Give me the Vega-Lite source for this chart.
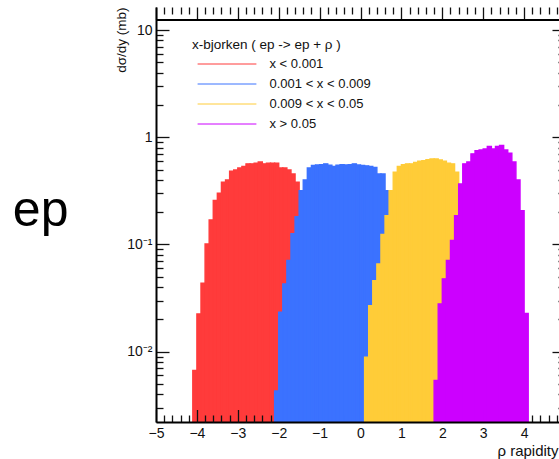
{
  "$schema": "https://vega.github.io/schema/vega-lite/v6.json",
  "width": 403,
  "height": 415,
  "autosize": {"type": "none"},
  "padding": {"left": 156, "top": 7, "right": 0, "bottom": 37},
  "background": "white",
  "config": {
    "view": {"stroke": null},
    "font": "Liberation Sans",
    "axis": {"grid": false, "labelFont": "Liberation Sans", "titleFont": "Liberation Sans", "tickColor": "#111", "tickWidth": 1.3, "domainColor": "#000", "labelColor": "#111", "titleColor": "#111", "titleFontWeight": "normal"},
    "legend": {"labelFont": "Liberation Sans", "titleFont": "Liberation Sans"}
  },
  "datasets": {
    "hist": [
      {"s": "x < 0.001", "x0": -4.1, "x1": -4.0, "v": 0.0067},
      {"s": "x < 0.001", "x0": -4.0, "x1": -3.9, "v": 0.0225},
      {"s": "x < 0.001", "x0": -3.9, "x1": -3.8, "v": 0.0435},
      {"s": "x < 0.001", "x0": -3.8, "x1": -3.7, "v": 0.101},
      {"s": "x < 0.001", "x0": -3.7, "x1": -3.6, "v": 0.169},
      {"s": "x < 0.001", "x0": -3.6, "x1": -3.5, "v": 0.257},
      {"s": "x < 0.001", "x0": -3.5, "x1": -3.4, "v": 0.300},
      {"s": "x < 0.001", "x0": -3.4, "x1": -3.3, "v": 0.380},
      {"s": "x < 0.001", "x0": -3.3, "x1": -3.2, "v": 0.400},
      {"s": "x < 0.001", "x0": -3.2, "x1": -3.1, "v": 0.482},
      {"s": "x < 0.001", "x0": -3.1, "x1": -3.0, "v": 0.496},
      {"s": "x < 0.001", "x0": -3.0, "x1": -2.9, "v": 0.518},
      {"s": "x < 0.001", "x0": -2.9, "x1": -2.8, "v": 0.533},
      {"s": "x < 0.001", "x0": -2.8, "x1": -2.7, "v": 0.565},
      {"s": "x < 0.001", "x0": -2.7, "x1": -2.6, "v": 0.565},
      {"s": "x < 0.001", "x0": -2.6, "x1": -2.5, "v": 0.572},
      {"s": "x < 0.001", "x0": -2.5, "x1": -2.4, "v": 0.589},
      {"s": "x < 0.001", "x0": -2.4, "x1": -2.3, "v": 0.565},
      {"s": "x < 0.001", "x0": -2.3, "x1": -2.2, "v": 0.572},
      {"s": "x < 0.001", "x0": -2.2, "x1": -2.1, "v": 0.572},
      {"s": "x < 0.001", "x0": -2.1, "x1": -2.0, "v": 0.572},
      {"s": "x < 0.001", "x0": -2.0, "x1": -1.9, "v": 0.518},
      {"s": "x < 0.001", "x0": -1.9, "x1": -1.8, "v": 0.518},
      {"s": "x < 0.001", "x0": -1.8, "x1": -1.7, "v": 0.496},
      {"s": "x < 0.001", "x0": -1.7, "x1": -1.6, "v": 0.455},
      {"s": "x < 0.001", "x0": -1.6, "x1": -1.5, "v": 0.380},
      {"s": "0.001 < x < 0.009", "x0": -2.1, "x1": -2.0, "v": 0.0043},
      {"s": "0.001 < x < 0.009", "x0": -2.0, "x1": -1.9, "v": 0.0233},
      {"s": "0.001 < x < 0.009", "x0": -1.9, "x1": -1.8, "v": 0.0429},
      {"s": "0.001 < x < 0.009", "x0": -1.8, "x1": -1.7, "v": 0.0708},
      {"s": "0.001 < x < 0.009", "x0": -1.7, "x1": -1.6, "v": 0.126},
      {"s": "0.001 < x < 0.009", "x0": -1.6, "x1": -1.5, "v": 0.182},
      {"s": "0.001 < x < 0.009", "x0": -1.5, "x1": -1.4, "v": 0.318},
      {"s": "0.001 < x < 0.009", "x0": -1.4, "x1": -1.3, "v": 0.400},
      {"s": "0.001 < x < 0.009", "x0": -1.3, "x1": -1.2, "v": 0.518},
      {"s": "0.001 < x < 0.009", "x0": -1.2, "x1": -1.1, "v": 0.545},
      {"s": "0.001 < x < 0.009", "x0": -1.1, "x1": -1.0, "v": 0.552},
      {"s": "0.001 < x < 0.009", "x0": -1.0, "x1": -0.9, "v": 0.556},
      {"s": "0.001 < x < 0.009", "x0": -0.9, "x1": -0.8, "v": 0.565},
      {"s": "0.001 < x < 0.009", "x0": -0.8, "x1": -0.7, "v": 0.548},
      {"s": "0.001 < x < 0.009", "x0": -0.7, "x1": -0.6, "v": 0.533},
      {"s": "0.001 < x < 0.009", "x0": -0.6, "x1": -0.5, "v": 0.548},
      {"s": "0.001 < x < 0.009", "x0": -0.5, "x1": -0.4, "v": 0.556},
      {"s": "0.001 < x < 0.009", "x0": -0.4, "x1": -0.3, "v": 0.552},
      {"s": "0.001 < x < 0.009", "x0": -0.3, "x1": -0.2, "v": 0.556},
      {"s": "0.001 < x < 0.009", "x0": -0.2, "x1": -0.1, "v": 0.565},
      {"s": "0.001 < x < 0.009", "x0": -0.1, "x1": 0.0, "v": 0.552},
      {"s": "0.001 < x < 0.009", "x0": 0.0, "x1": 0.1, "v": 0.545},
      {"s": "0.001 < x < 0.009", "x0": 0.1, "x1": 0.2, "v": 0.541},
      {"s": "0.001 < x < 0.009", "x0": 0.2, "x1": 0.3, "v": 0.533},
      {"s": "0.001 < x < 0.009", "x0": 0.3, "x1": 0.4, "v": 0.522},
      {"s": "0.001 < x < 0.009", "x0": 0.4, "x1": 0.5, "v": 0.455},
      {"s": "0.001 < x < 0.009", "x0": 0.5, "x1": 0.6, "v": 0.455},
      {"s": "0.001 < x < 0.009", "x0": 0.6, "x1": 0.7, "v": 0.318},
      {"s": "0.001 < x < 0.009", "x0": 0.7, "x1": 0.8, "v": 0.193},
      {"s": "0.009 < x < 0.05", "x0": 0.1, "x1": 0.2, "v": 0.0089},
      {"s": "0.009 < x < 0.05", "x0": 0.2, "x1": 0.3, "v": 0.0269},
      {"s": "0.009 < x < 0.05", "x0": 0.3, "x1": 0.4, "v": 0.046},
      {"s": "0.009 < x < 0.05", "x0": 0.4, "x1": 0.5, "v": 0.0659},
      {"s": "0.009 < x < 0.05", "x0": 0.5, "x1": 0.6, "v": 0.124},
      {"s": "0.009 < x < 0.05", "x0": 0.6, "x1": 0.7, "v": 0.186},
      {"s": "0.009 < x < 0.05", "x0": 0.7, "x1": 0.8, "v": 0.318},
      {"s": "0.009 < x < 0.05", "x0": 0.8, "x1": 0.9, "v": 0.472},
      {"s": "0.009 < x < 0.05", "x0": 0.9, "x1": 1.0, "v": 0.533},
      {"s": "0.009 < x < 0.05", "x0": 1.0, "x1": 1.1, "v": 0.556},
      {"s": "0.009 < x < 0.05", "x0": 1.1, "x1": 1.2, "v": 0.565},
      {"s": "0.009 < x < 0.05", "x0": 1.2, "x1": 1.3, "v": 0.565},
      {"s": "0.009 < x < 0.05", "x0": 1.3, "x1": 1.4, "v": 0.581},
      {"s": "0.009 < x < 0.05", "x0": 1.4, "x1": 1.5, "v": 0.597},
      {"s": "0.009 < x < 0.05", "x0": 1.5, "x1": 1.6, "v": 0.606},
      {"s": "0.009 < x < 0.05", "x0": 1.6, "x1": 1.7, "v": 0.619},
      {"s": "0.009 < x < 0.05", "x0": 1.7, "x1": 1.8, "v": 0.628},
      {"s": "0.009 < x < 0.05", "x0": 1.8, "x1": 1.9, "v": 0.628},
      {"s": "0.009 < x < 0.05", "x0": 1.9, "x1": 2.0, "v": 0.615},
      {"s": "0.009 < x < 0.05", "x0": 2.0, "x1": 2.1, "v": 0.597},
      {"s": "0.009 < x < 0.05", "x0": 2.1, "x1": 2.2, "v": 0.572},
      {"s": "0.009 < x < 0.05", "x0": 2.2, "x1": 2.3, "v": 0.565},
      {"s": "0.009 < x < 0.05", "x0": 2.3, "x1": 2.4, "v": 0.472},
      {"s": "x > 0.05", "x0": 1.8, "x1": 1.9, "v": 0.0054},
      {"s": "x > 0.05", "x0": 1.9, "x1": 2.0, "v": 0.0279},
      {"s": "x > 0.05", "x0": 2.0, "x1": 2.1, "v": 0.0478},
      {"s": "x > 0.05", "x0": 2.1, "x1": 2.2, "v": 0.0708},
      {"s": "x > 0.05", "x0": 2.2, "x1": 2.3, "v": 0.109},
      {"s": "x > 0.05", "x0": 2.3, "x1": 2.4, "v": 0.186},
      {"s": "x > 0.05", "x0": 2.4, "x1": 2.5, "v": 0.367},
      {"s": "x > 0.05", "x0": 2.5, "x1": 2.6, "v": 0.565},
      {"s": "x > 0.05", "x0": 2.6, "x1": 2.7, "v": 0.589},
      {"s": "x > 0.05", "x0": 2.7, "x1": 2.8, "v": 0.700},
      {"s": "x > 0.05", "x0": 2.8, "x1": 2.9, "v": 0.751},
      {"s": "x > 0.05", "x0": 2.9, "x1": 3.0, "v": 0.762},
      {"s": "x > 0.05", "x0": 3.0, "x1": 3.1, "v": 0.779},
      {"s": "x > 0.05", "x0": 3.1, "x1": 3.2, "v": 0.819},
      {"s": "x > 0.05", "x0": 3.2, "x1": 3.3, "v": 0.779},
      {"s": "x > 0.05", "x0": 3.3, "x1": 3.4, "v": 0.819},
      {"s": "x > 0.05", "x0": 3.4, "x1": 3.5, "v": 0.837},
      {"s": "x > 0.05", "x0": 3.5, "x1": 3.6, "v": 0.762},
      {"s": "x > 0.05", "x0": 3.6, "x1": 3.7, "v": 0.709},
      {"s": "x > 0.05", "x0": 3.7, "x1": 3.8, "v": 0.589},
      {"s": "x > 0.05", "x0": 3.8, "x1": 3.9, "v": 0.400},
      {"s": "x > 0.05", "x0": 3.9, "x1": 4.0, "v": 0.207},
      {"s": "x > 0.05", "x0": 4.0, "x1": 4.1, "v": 0.0228}
    ],
    "note": [{"label": "ep", "x0": -8.5, "v": 0.15}]
  },
  "resolve": {"axis": {"x": "independent", "y": "independent"}},
  "layer": [
    {
      "data": {"name": "hist"},
      "mark": {"type": "rect", "strokeWidth": 1.4},
      "encoding": {
        "x": {"field": "x0", "type": "quantitative", "scale": {"domain": [-5, 4.853], "nice": false, "zero": false},
          "axis": {"orient": "bottom", "values": [-5, -4, -3, -2, -1, 0, 1, 2, 3, 4], "ticks": false, "labelFontSize": 14, "labelPadding": 4, "domainWidth": 2, "labelFlush": false, "labelOverlap": false, "zindex": 1,
            "title": "ρ rapidity", "titleFontSize": 15, "titleX": 402, "titleY": 33, "titleAlign": "right", "titleBaseline": "alphabetic", "titleAnchor": "end"}},
        "x2": {"field": "x1"},
        "y": {"field": "v", "type": "quantitative", "scale": {"type": "log", "domain": [0.00221, 16.4], "nice": false},
          "axis": {"orient": "left", "values": [0.01, 0.1, 1, 10], "ticks": false, "labelFontSize": 14, "labelPadding": 4, "domainWidth": 2, "labelFlush": false, "labelOverlap": false, "zindex": 1,
            "labelExpr": "datum.value > 5 ? '10' : datum.value > 0.5 ? '1' : datum.value > 0.05 ? '10⁻¹' : '10⁻²'",
            "title": "dσ/dy (mb)", "titleFontSize": 13.5, "titleX": -35, "titleY": 0, "titleAngle": -90, "titleAlign": "right", "titleBaseline": "middle", "titleAnchor": "end"}},
        "y2": {"datum": 0.00221},
        "color": {"field": "s", "type": "nominal",
          "scale": {"domain": ["x < 0.001", "0.001 < x < 0.009", "0.009 < x < 0.05", "x > 0.05"], "range": ["#ff3b3b", "#3b72ff", "#ffcc38", "#cc00ff"]},
          "legend": {"orient": "none", "legendX": 36, "legendY": 31, "title": "x-bjorken ( ep -> ep + ρ )", "titleFontSize": 13.5, "titleFontWeight": "normal", "titleColor": "#111", "titlePadding": 6,
            "labelFontSize": 13, "labelColor": "#111", "symbolType": "M-6,0H6", "symbolSize": 96, "symbolStrokeWidth": 1, "symbolOffset": 28.5, "labelOffset": 36, "rowPadding": 6,
            "encode": {"symbols": {"update": {"stroke": {"scale": "color", "field": "value"}, "fill": {"value": "transparent"}, "strokeWidth": {"value": 1}}}}}},
        "stroke": {"field": "s", "type": "nominal",
          "scale": {"domain": ["x < 0.001", "0.001 < x < 0.009", "0.009 < x < 0.05", "x > 0.05"], "range": ["#ff3b3b", "#3b72ff", "#ffcc38", "#cc00ff"]},
          "legend": null}
      }
    },
    {
      "data": {"name": "hist"},
      "mark": {"type": "point", "opacity": 0},
      "encoding": {
        "x": {"field": "x0", "type": "quantitative", "scale": {"domain": [-5, 4.853], "nice": false, "zero": false},
          "axis": {"orient": "bottom", "values": [-5, -4, -3, -2, -1, 0, 1, 2, 3, 4], "labels": false, "domain": false, "tickSize": 12.5, "offset": -12.5, "title": null, "zindex": 0}},
        "y": {"field": "v", "type": "quantitative", "scale": {"type": "log", "domain": [0.00221, 16.4], "nice": false},
          "axis": {"orient": "left", "values": [0.01, 0.1, 1, 10], "labels": false, "domain": false, "tickSize": 13, "offset": -13, "title": null, "zindex": 0}}
      }
    },
    {
      "data": {"name": "hist"},
      "mark": {"type": "point", "opacity": 0},
      "encoding": {
        "x": {"field": "x0", "type": "quantitative", "scale": {"domain": [-5, 4.853], "nice": false, "zero": false},
          "axis": {"orient": "bottom", "values": [-4.8, -4.6, -4.4, -4.2, -3.8, -3.6, -3.4, -3.2, -2.8, -2.6, -2.4, -2.2, -1.8, -1.6, -1.4, -1.2, -0.8, -0.6, -0.4, -0.2, 0.2, 0.4, 0.6, 0.8, 1.2, 1.4, 1.6, 1.8, 2.2, 2.4, 2.6, 2.8, 3.2, 3.4, 3.6, 3.8, 4.2, 4.4, 4.6, 4.8], "labels": false, "domain": false, "tickSize": 7, "offset": -7, "title": null, "zindex": 0}},
        "y": {"field": "v", "type": "quantitative", "scale": {"type": "log", "domain": [0.00221, 16.4], "nice": false},
          "axis": {"orient": "left", "values": [0.003, 0.004, 0.005, 0.006, 0.007, 0.008, 0.009, 0.02, 0.03, 0.04, 0.05, 0.06, 0.07, 0.08, 0.09, 0.2, 0.3, 0.4, 0.5, 0.6, 0.7, 0.8, 0.9, 2, 3, 4, 5, 6, 7, 8, 9], "labels": false, "domain": false, "tickSize": 7, "offset": -7, "title": null, "zindex": 0}}
      }
    },
    {
      "data": {"name": "hist"},
      "mark": {"type": "point", "opacity": 0},
      "encoding": {
        "x": {"field": "x0", "type": "quantitative", "scale": {"domain": [-5, 4.853], "nice": false, "zero": false},
          "axis": {"orient": "top", "values": [-5, -4, -3, -2, -1, 0, 1, 2, 3, 4], "labels": false, "domain": true, "domainWidth": 2, "tickSize": 12.5, "offset": -12.5, "title": null, "zindex": 1}},
        "y": {"field": "v", "type": "quantitative", "scale": {"type": "log", "domain": [0.00221, 16.4], "nice": false},
          "axis": {"orient": "right", "values": [0.01, 0.1, 1, 10], "labels": false, "domain": false, "tickSize": 13, "offset": -7, "title": null, "zindex": 1}}
      }
    },
    {
      "data": {"name": "hist"},
      "mark": {"type": "point", "opacity": 0},
      "encoding": {
        "x": {"field": "x0", "type": "quantitative", "scale": {"domain": [-5, 4.853], "nice": false, "zero": false},
          "axis": {"orient": "top", "values": [-4.8, -4.6, -4.4, -4.2, -3.8, -3.6, -3.4, -3.2, -2.8, -2.6, -2.4, -2.2, -1.8, -1.6, -1.4, -1.2, -0.8, -0.6, -0.4, -0.2, 0.2, 0.4, 0.6, 0.8, 1.2, 1.4, 1.6, 1.8, 2.2, 2.4, 2.6, 2.8, 3.2, 3.4, 3.6, 3.8, 4.2, 4.4, 4.6, 4.8], "labels": false, "domain": false, "tickSize": 7, "offset": -7, "title": null, "zindex": 1}},
        "y": {"field": "v", "type": "quantitative", "scale": {"type": "log", "domain": [0.00221, 16.4], "nice": false},
          "axis": {"orient": "right", "values": [0.003, 0.004, 0.005, 0.006, 0.007, 0.008, 0.009, 0.02, 0.03, 0.04, 0.05, 0.06, 0.07, 0.08, 0.09, 0.2, 0.3, 0.4, 0.5, 0.6, 0.7, 0.8, 0.9, 2, 3, 4, 5, 6, 7, 8, 9], "labels": false, "domain": false, "tickSize": 7, "offset": -1, "title": null, "zindex": 1}}
      }
    },
    {
      "data": {"name": "hist"},
      "mark": {"type": "point", "opacity": 0},
      "encoding": {
        "x": {"field": "x0", "type": "quantitative", "scale": {"domain": [-5, 4.853], "nice": false, "zero": false},
          "axis": {"orient": "bottom", "values": [-4, -3], "labels": false, "domain": false, "tickSize": 12.5, "offset": -12.5, "title": null, "zindex": 1}},
        "y": {"field": "v", "type": "quantitative", "scale": {"type": "log", "domain": [0.00221, 16.4], "nice": false}, "axis": null}
      }
    },
    {
      "data": {"name": "hist"},
      "mark": {"type": "point", "opacity": 0},
      "encoding": {
        "x": {"field": "x0", "type": "quantitative", "scale": {"domain": [-5, 4.853], "nice": false, "zero": false},
          "axis": {"orient": "bottom", "values": [-3.8, -3.6, -3.4, -3.2, -2.8, -2.6, -2.4, -2.2], "labels": false, "domain": false, "tickSize": 7, "offset": -7, "title": null, "zindex": 1}},
        "y": {"field": "v", "type": "quantitative", "scale": {"type": "log", "domain": [0.00221, 16.4], "nice": false}, "axis": null}
      }
    },
    {
      "data": {"name": "note"},
      "mark": {"type": "text", "fontSize": 50, "align": "left", "baseline": "alphabetic", "font": "Liberation Sans", "color": "#000"},
      "encoding": {
        "x": {"field": "x0", "type": "quantitative", "scale": {"domain": [-5, 4.853], "nice": false, "zero": false}, "axis": null},
        "y": {"field": "v", "type": "quantitative", "scale": {"type": "log", "domain": [0.00221, 16.4], "nice": false}, "axis": null},
        "text": {"field": "label"}
      }
    }
  ]
}
